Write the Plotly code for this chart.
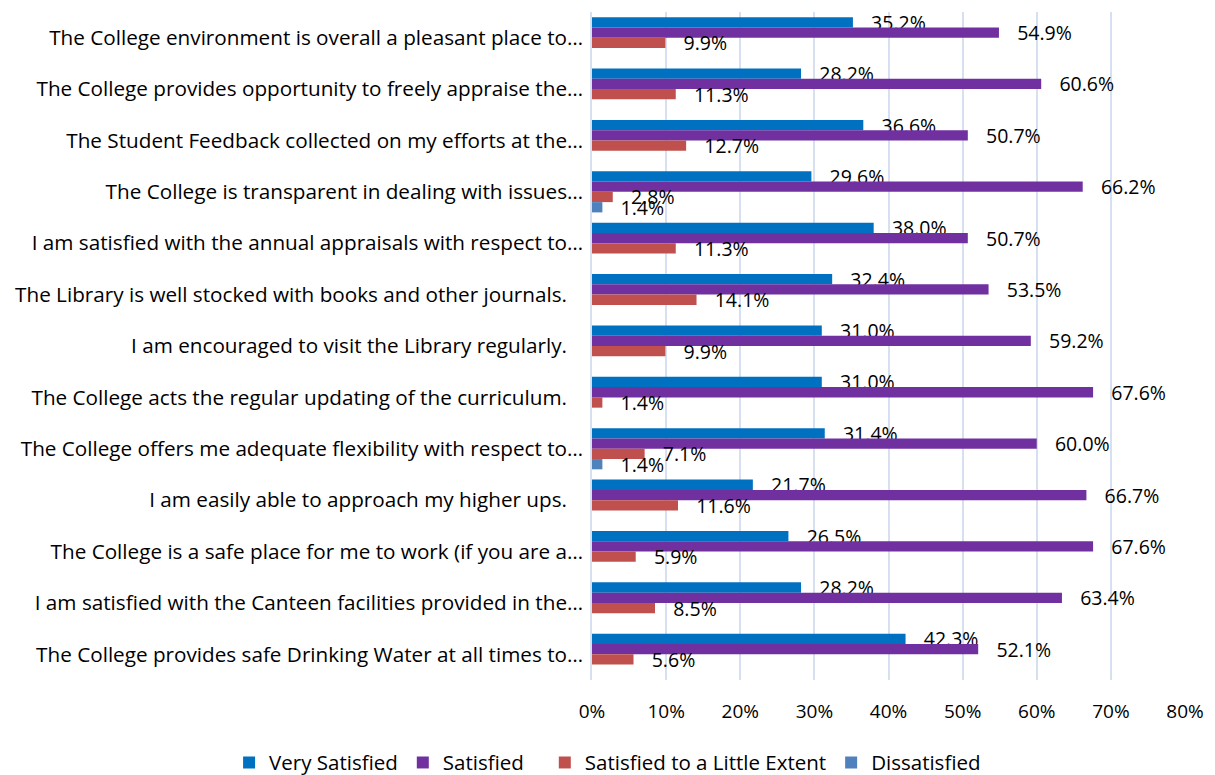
import plotly.graph_objects as go

categories = [
    "The College environment is overall a pleasant place to…",
    "The College provides opportunity to freely appraise the…",
    "The Student Feedback collected on my efforts at the…",
    "The College is transparent in dealing with issues…",
    "I am satisfied with the annual appraisals with respect to…",
    "The Library is well stocked with books and other journals.\u00a0\u00a0\u00a0",
    "I am encouraged to visit the Library regularly.\u00a0\u00a0\u00a0",
    "The College acts the regular updating of the curriculum.\u00a0\u00a0\u00a0",
    "The College offers me adequate flexibility with respect to…",
    "I am easily able to approach my higher ups.\u00a0\u00a0\u00a0",
    "The College is a safe place for me to work (if you are a…",
    "I am satisfied with the Canteen facilities provided in the…",
    "The College provides safe Drinking Water at all times to…",
]

very_satisfied = [35.2, 28.2, 36.6, 29.6, 38.0, 32.4, 31.0, 31.0, 31.4, 21.7, 26.5, 28.2, 42.3]
satisfied = [54.9, 60.6, 50.7, 66.2, 50.7, 53.5, 59.2, 67.6, 60.0, 66.7, 67.6, 63.4, 52.1]
little_extent = [9.9, 11.3, 12.7, 2.8, 11.3, 14.1, 9.9, 1.4, 7.1, 11.6, 5.9, 8.5, 5.6]
dissatisfied = [None, None, None, 1.4, None, None, None, None, 1.4, None, None, None, None]

x_ticks = [0, 10, 20, 30, 40, 50, 60, 70, 80]

series_names = ["Very Satisfied", "Satisfied", "Satisfied to a Little Extent", "Dissatisfied"]
legend_labels = ["Very Satisfied", "Satisfied\u00a0\u00a0\u00a0", "Satisfied to a Little Extent", "Dissatisfied"]
series_values = [very_satisfied, satisfied, little_extent, dissatisfied]
series_colors = ["#0070C0", "#7030A0", "#C0504D", "#4F81BD"]

FONT = "Open Sans"
pad = "\u00a0\u00a0 "

fig = go.Figure()
for name, label, vals, color in zip(series_names, legend_labels, series_values, series_colors):
    fig.add_trace(go.Bar(
        name=label,
        y=categories,
        x=vals,
        orientation="h",
        marker=dict(color=color, line=dict(width=0)),
        text=[(pad + f"{v:.1f}%") if v is not None else "" for v in vals],
        textposition="outside",
        constraintext="none",
        cliponaxis=False,
        textfont=dict(family=FONT, size=19.5, color="#000000"),
        hovertemplate=name + ": %{x:.1f}%<extra></extra>",
    ))

fig.update_layout(
    width=1207,
    height=767,
    barmode="group",
    bargap=0.2,
    bargroupgap=0,
    plot_bgcolor="white",
    paper_bgcolor="white",
    font=dict(family=FONT, size=20, color="#000000"),
    margin=dict(l=584, r=30, t=4, b=95, autoexpand=False),
    legend=dict(
        orientation="h",
        x=-0.612, xanchor="left",
        y=-0.1237, yanchor="middle",
        font=dict(family=FONT, size=20.5, color="#000000"),
        itemwidth=30,
        traceorder="normal",
    ),
    showlegend=True,
)

fig.update_xaxes(
    range=[0, 80],
    tickvals=x_ticks,
    ticktext=[f"{t}%" for t in x_ticks],
    showgrid=True,
    gridcolor="#D6E0F0",
    gridwidth=1.5,
    zeroline=False,
    showline=False,
    ticks="",
    ticklabelstandoff=18,
    tickfont=dict(family=FONT, size=19, color="#000000"),
)
fig.update_yaxes(
    autorange="reversed",
    showgrid=False,
    showline=True,
    linecolor="#D6E0F0",
    linewidth=1.5,
    ticks="",
    automargin=False,
    ticklabelstandoff=3,
    tickfont=dict(family=FONT, size=20.7, color="#000000"),
)

fig.write_html("out.html")
